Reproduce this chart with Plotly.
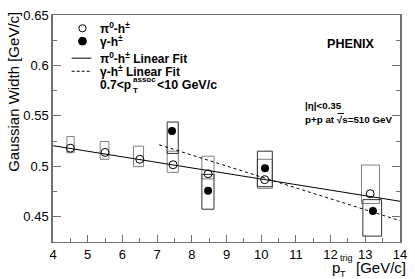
import plotly.graph_objects as go

# ---------------- data ----------------
pi0_x = [4.5, 5.5, 6.5, 7.46, 8.47, 10.1, 13.14]
pi0_y = [0.518, 0.5138, 0.507, 0.5016, 0.4926, 0.4868, 0.4728]
pi0_sys_lo = [0.5135, 0.507, 0.4997, 0.494, 0.4875, 0.4782, 0.4632]
pi0_sys_hi = [0.5295, 0.5247, 0.520, 0.515, 0.510, 0.507, 0.5013]
pi0_box_xlo = [4.40, 5.36, 6.32, 7.29, 8.29, 9.89, 12.89]
pi0_box_xhi = [4.61, 5.61, 6.61, 7.61, 8.64, 10.32, 13.41]

gam_x = [7.43, 8.47, 10.11, 13.22]
gam_y = [0.5349, 0.4757, 0.4981, 0.4558]
gam_sys_lo = [0.5128, 0.4575, 0.4798, 0.4308]
gam_sys_hi = [0.5439, 0.492, 0.515, 0.467]
gam_box_xlo = [7.29, 8.29, 9.89, 12.93]
gam_box_xhi = [7.61, 8.64, 10.32, 13.47]

# linear fits: y = a + b*x over [xmin, xmax]
pi0_fit = dict(a=0.5425, b=-0.00551, xmin=4.0, xmax=14.0)
gam_fit = dict(a=0.5979, b=-0.01084, xmin=7.06, xmax=14.0)

x_range = [4, 14]
y_range = [0.425, 0.65]
y_ticks = [0.45, 0.5, 0.55, 0.6, 0.65]
y_ticklabels = ["0.45", "0.5", "0.55", "0.6", "0.65"]

FONT = "Liberation Sans, Arial, Helvetica, sans-serif"
W, H = 415, 279
L, R, T, B = 53, 406, 8, 242


def px(x):
    return (x - L) / (R - L)


def py(y):
    return (B - y) / (B - T)


def boxes(xlo, xhi, lo, hi):
    xs, ys = [], []
    for a, b, c, d in zip(xlo, xhi, lo, hi):
        xs += [a, b, b, a, a, None]
        ys += [c, c, d, d, c, None]
    return xs, ys


fig = go.Figure()

bx, by = boxes(pi0_box_xlo, pi0_box_xhi, pi0_sys_lo, pi0_sys_hi)
fig.add_trace(go.Scatter(x=bx, y=by, mode="lines", line=dict(color="#808080", width=1),
                         showlegend=False, hoverinfo="skip"))
bx, by = boxes(gam_box_xlo, gam_box_xhi, gam_sys_lo, gam_sys_hi)
fig.add_trace(go.Scatter(x=bx, y=by, mode="lines", line=dict(color="#303030", width=1),
                         showlegend=False, hoverinfo="skip"))

for fit, dash in [(pi0_fit, "solid"), (gam_fit, "3px,3px")]:
    xs = [fit["xmin"], fit["xmax"]]
    ys = [fit["a"] + fit["b"] * v for v in xs]
    fig.add_trace(go.Scatter(x=xs, y=ys, mode="lines",
                             line=dict(color="black", width=1, dash=dash),
                             showlegend=False, hoverinfo="skip"))

fig.add_trace(go.Scatter(x=pi0_x, y=pi0_y, mode="markers",
                         marker=dict(symbol="circle-open", size=8, color="black",
                                     line=dict(width=1, color="black")),
                         showlegend=False))
fig.add_trace(go.Scatter(x=gam_x, y=gam_y, mode="markers",
                         marker=dict(symbol="circle", size=8, color="black"),
                         showlegend=False))

axcol = "#707070"
fig.update_xaxes(range=x_range, dtick=1, tick0=4, ticks="inside", ticklen=7, tickcolor=axcol,
                 showline=True, linecolor=axcol, linewidth=1, mirror=True,
                 showgrid=False, zeroline=False,
                 minor=dict(dtick=0.5, ticks="inside", ticklen=4, tickcolor=axcol),
                 tickfont=dict(family=FONT, size=13, color="black"))
fig.update_yaxes(range=y_range, tickvals=y_ticks, ticktext=y_ticklabels, ticks="inside",
                 ticklen=8, tickcolor=axcol, showline=True, linecolor=axcol, linewidth=1.5,
                 mirror="ticks", showgrid=False, zeroline=False,
                 minor=dict(tickvals=[0.425 + 0.025 * i for i in range(10)], ticks="inside",
                            ticklen=4, tickcolor=axcol),
                 tickfont=dict(family=FONT, size=13, color="black"))

shapes = []
# legend glyphs
shapes.append(dict(type="circle", xref="paper", yref="paper",
                   x0=px(79.3), x1=px(86.7), y0=py(25.4), y1=py(18.0),
                   line=dict(color="black", width=1)))
shapes.append(dict(type="circle", xref="paper", yref="paper",
                   x0=px(79), x1=px(87), y0=py(39), y1=py(31),
                   fillcolor="black", line=dict(color="black", width=1)))
shapes.append(dict(type="line", xref="paper", yref="paper",
                   x0=px(72), x1=px(92), y0=py(52.5), y1=py(52.5),
                   line=dict(color="black", width=1)))
shapes.append(dict(type="line", xref="paper", yref="paper",
                   x0=px(72), x1=px(92), y0=py(66), y1=py(66),
                   line=dict(color="black", width=1, dash="3px,2px")))
# overline of sqrt(s)
shapes.append(dict(type="line", xref="paper", yref="paper",
                   x0=px(342.5), x1=px(349), y0=py(109.5), y1=py(109.5),
                   line=dict(color="black", width=1)))
fig.update_layout(shapes=shapes)


def ann(text, x, y, size=12, bold=True, xanchor="left", yanchor="middle", angle=0, family=FONT):
    t = f"<b>{text}</b>" if bold else text
    fig.add_annotation(text=t, x=px(x), y=py(y), xref="paper", yref="paper",
                       showarrow=False, xanchor=xanchor, yanchor=yanchor, textangle=angle,
                       font=dict(family=family, size=size, color="black"))


ann("π<sup>0</sup>-h<sup>±</sup>", 99, 21)
ann("γ-h<sup>±</sup>", 99, 35)
ann("π<sup>0</sup>-h<sup>±</sup> Linear Fit", 99, 52)
ann("γ-h<sup>±</sup> Linear Fit", 99, 66)
ann("0.7&lt;p", 99, 80)
ann("assoc", 132, 74, size=8)
ann("T", 132, 86, size=8)
ann("&lt;10 GeV/c", 157, 80, size=12.5)

ann("PHENIX", 330, 38, size=12.6)
ann("|η|&lt;0.35", 307, 101, size=9.8)
ann("p+p at √s=510 GeV", 307, 116, size=9.8)

# axis titles
ann("Gaussian Width [GeV/c]", 12, 3, size=15, bold=False, xanchor="center", yanchor="top", angle=-90)
ann("p", 335, 268, size=15, bold=False)
ann("trig", 343, 259, size=9, bold=False)
ann("T", 343, 275, size=9, bold=False)
ann("[GeV/c]", 359, 268, size=15, bold=False)

fig.update_layout(width=W, height=H, margin=dict(l=L, r=W - R, t=T, b=H - B),
                  paper_bgcolor="white", plot_bgcolor="white",
                  font=dict(family=FONT, size=13, color="black"), showlegend=False)

fig.write_html("out.html", config={"displayModeBar": False},
               post_script="document.body.style.margin='0';document.body.style.overflow='hidden';")
